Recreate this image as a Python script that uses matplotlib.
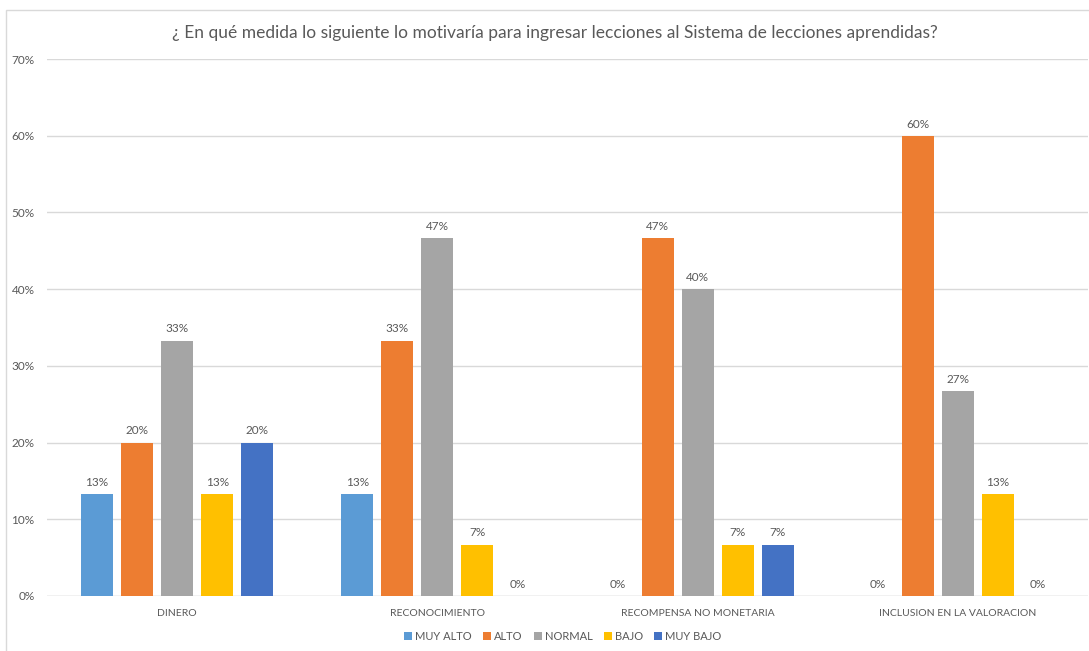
import numpy as np
import matplotlib; matplotlib.use("Agg")
import matplotlib.pyplot as plt
from matplotlib.patches import Rectangle

plt.rcParams['font.family'] = ['Lato', 'DejaVu Sans']

categories = ['DINERO', 'RECONOCIMIENTO', 'RECOMPENSA NO MONETARIA',
              'INCLUSION EN LA VALORACION']
series = ['MUY ALTO', 'ALTO', 'NORMAL', 'BAJO', 'MUY BAJO']
muy_alto = [0.133, 0.133, 0.0, 0.0]
alto = [0.200, 0.333, 0.467, 0.600]
normal = [0.333, 0.467, 0.400, 0.267]
bajo = [0.133, 0.067, 0.067, 0.133]
muy_bajo = [0.200, 0.0, 0.067, 0.0]
colors = ['#5b9bd5', '#ed7d31', '#a5a5a5', '#ffc000', '#4472c4']
title = '¿ En qué medida lo siguiente lo motivaría para ingresar lecciones al Sistema de lecciones aprendidas?'

fig = plt.figure(figsize=(10.89, 6.51), dpi=100)
fig.patch.set_facecolor('white')
# outer chart frame
fig.patches.append(Rectangle((6/1089, -0.1), 1.2, (651-10)/651 + 0.1,
                             transform=fig.transFigure, fill=False,
                             edgecolor='#d9d9d9', linewidth=1.0))
ax = fig.add_axes([47/1089, 1-596/651, 1041/1089, (596-59)/651])

x = np.arange(len(categories))
step, width = 40/260, 32/260
txt = '#595959'
for i, (name, vals) in enumerate(zip(series, [muy_alto, alto, normal, bajo, muy_bajo])):
    pos = x + (i - 2) * step
    ax.bar(pos, vals, width=width, color=colors[i], label=name, zorder=3)
    for p, v in zip(pos, vals):
        ax.text(p, v + 0.008, f'{v*100:.0f}%', ha='center', va='bottom',
                fontsize=8.5, color=txt)

ax.set_xlim(-0.5, len(categories) - 0.5)
ax.set_ylim(0, 0.70)
ax.set_yticks(np.arange(0, 0.71, 0.1))
ax.set_yticklabels([f'{int(round(t*100))}%' for t in np.arange(0, 0.71, 0.1)])
ax.set_xticks(x)
ax.set_xticklabels(categories)
ax.tick_params(axis='both', length=0, colors=txt)
ax.tick_params(axis='x', pad=9, labelsize=7.5)
ax.tick_params(axis='y', pad=9, labelsize=8.5)
ax.grid(axis='y', color='#d9d9d9', linewidth=1.0, zorder=0)
for s in ax.spines.values():
    s.set_visible(False)
ax.axhline(0, color='#d9d9d9', linewidth=1.0, zorder=2)

fig.text(555/1089, 1-33/651, title, ha='center', va='center',
         fontsize=12.5, color='#595959')
leg = ax.legend(loc='center', bbox_to_anchor=(563/1089, 1-636/651),
                bbox_transform=fig.transFigure, ncol=5, frameon=False,
                fontsize=8, handlelength=0.7, handleheight=0.7,
                handletextpad=0.3, columnspacing=1.0)
for t in leg.get_texts():
    t.set_color(txt)

plt.savefig('out.png', dpi=100, facecolor='white')
plt.close(fig)
